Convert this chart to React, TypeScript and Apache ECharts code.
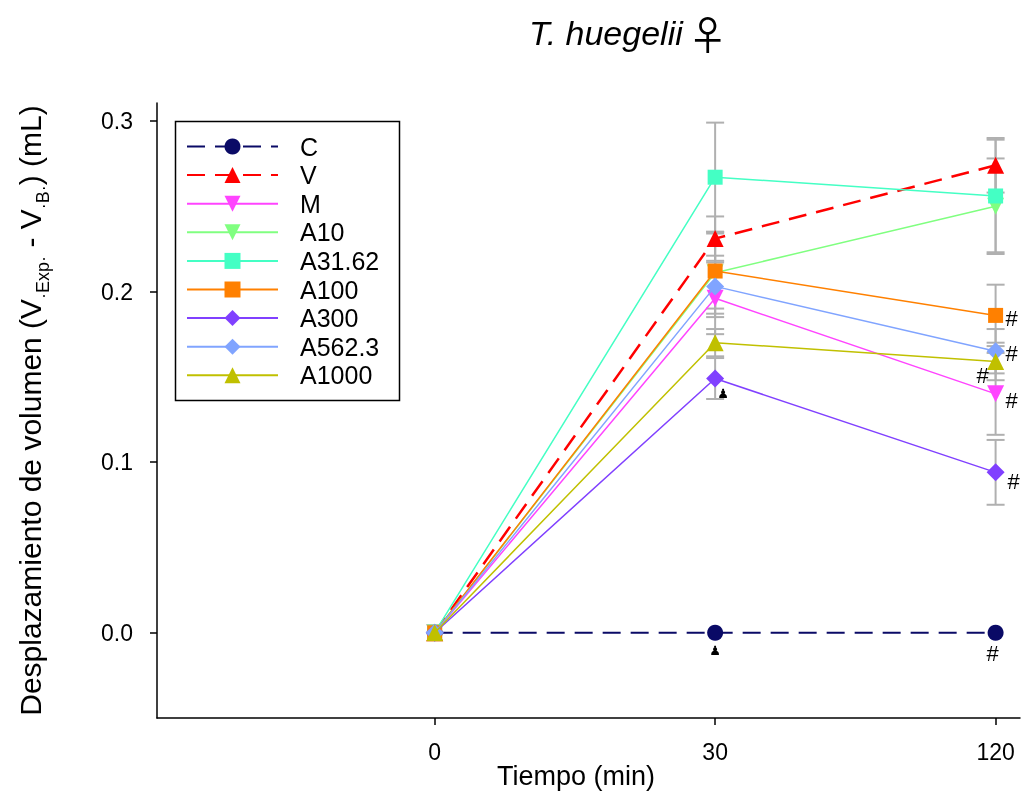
import React, { useEffect, useRef } from 'react';
import * as echarts from 'echarts';

// ---- data ----
const timeLabels = ['0', '30', '120'];
const timePos = [0, 1, 2];
const yTicks = [0, 0.1, 0.2, 0.3];

const seriesNames = ['C', 'V', 'M', 'A10', 'A31.62', 'A100', 'A300', 'A562.3', 'A1000'];

const valC = [0, 0, 0];
const valV = [0, 0.231, 0.274];
const valM = [0, 0.196, 0.140];
const valA10 = [0, 0.211, 0.250];
const valA31 = [0, 0.267, 0.256];
const valA100 = [0, 0.212, 0.186];
const valA300 = [0, 0.149, 0.094];
const valA562 = [0, 0.203, 0.165];
const valA1000 = [0, 0.170, 0.159];

const errC = [0, 0, 0];
const errV = [0, 0.013, 0.016];
const errM = [0, 0.021, 0.024];
const errA10 = [0, 0.024, 0.028];
const errA31 = [0, 0.032, 0.033];
const errA100 = [0, 0.022, 0.018];
const errA300 = [0, 0.012, 0.019];
const errA562 = [0, 0.018, 0.013];
const errA1000 = [0, 0.008, 0.011];

const allValues = [valC, valV, valM, valA10, valA31, valA100, valA300, valA562, valA1000];
const allErrors = [errC, errV, errM, errA10, errA31, errA100, errA300, errA562, errA1000];

// significance marks: [series index, time index, text]
const marks: [number, number, string][] = [
  [5, 2, '#'],
  [7, 2, '#'],
  [8, 2, '#'],
  [2, 2, '#'],
  [6, 2, '#'],
  [0, 2, '#'],
  [6, 1, '♟'],
  [0, 1, '♟'],
];
// label offsets (layout) for each mark, same order
const markOffsets: [number, number][] = [
  [16, 3], [16, 2], [-13, 14], [16, 7], [18, 9], [-3, 21], [8, 15], [0, 18],
];

// ---- styles ----
const colors = ['#0a0a66', '#ff0000', '#ff44ff', '#80ff80', '#44ffc4', '#ff8000', '#8040ff', '#80a4ff', '#c0c000'];
const symbols = ['circle', 'triangle', 'triangle', 'triangle', 'rect', 'rect', 'diamond', 'diamond', 'triangle'];
const rotates = [0, 0, 180, 180, 0, 0, 0, 0, 0];
const sizes = [16, 17, 17, 17, 15, 15, 18, 18, 17];
const FONT = '"Liberation Sans", Arial, sans-serif';

export default function App() {
  const ref = useRef<HTMLDivElement>(null);

  useEffect(() => {
    if (!ref.current) return;
    document.body.style.margin = '0';
    const chart = echarts.init(ref.current, undefined, { renderer: 'svg' });

    const errData: number[][] = [];
    allValues.forEach((vals, si) => {
      vals.forEach((v, ti) => {
        if (allErrors[si][ti] > 0) errData.push([timePos[ti], v, allErrors[si][ti]]);
      });
    });

    const lineSeries = seriesNames.map((name, i) => ({
      name,
      type: 'line',
      data: allValues[i].map((v, ti) => [timePos[ti], v]),
      symbol: symbols[i],
      symbolRotate: rotates[i],
      symbolSize: sizes[i],
      showSymbol: true,
      z: 3 + i,
      lineStyle: {
        color: colors[i],
        width: i === 0 ? 2 : i === 1 ? 2.5 : 1.5,
        type: i < 2 ? [18, 10] : 'solid',
      },
      itemStyle: { color: colors[i], borderWidth: 0 },
      emphasis: { disabled: true },
    }));

    const markData = marks.map(([si, ti], k) => [timePos[ti], allValues[si][ti], k]);

    chart.setOption({
      animation: false,
      grid: { left: 157, right: 1, top: 103, bottom: 73 },
      title: {
        text: '{i|T. huegelii} {n|♀}',
        left: 524,
        top: 8,
        textStyle: {
          fontWeight: 'normal',
          rich: {
            i: { fontSize: 34, fontStyle: 'italic', fontWeight: 'normal', fontFamily: FONT, color: '#000' },
            n: { fontSize: 40, fontWeight: 'normal', fontFamily: '"Noto Sans CJK JP", "DejaVu Sans"', color: '#000' },
          },
        },
      },
      legend: {
        orient: 'vertical',
        left: 186,
        top: 134,
        padding: 0,
        itemWidth: 91,
        itemHeight: 20,
        itemGap: 3.6,
        data: seriesNames,
        selectedMode: false,
        textStyle: { fontSize: 25, fontFamily: FONT, color: '#000', lineHeight: 20, padding: [0, 0, 0, 17] },
      },
      xAxis: {
        type: 'value',
        min: -0.99,
        max: 2.087,
        axisLine: { onZero: false, lineStyle: { color: '#000', width: 1.5 } },
        axisTick: { show: true, length: 7, lineStyle: { color: '#000', width: 1.5 }, customValues: timePos },
        axisLabel: {
          fontSize: 23,
          fontFamily: FONT,
          color: '#000',
          margin: 22,
          customValues: timePos,
          formatter: (v: number) => timeLabels[timePos.indexOf(Math.round(v))] ?? '',
        },
        splitLine: { show: false },
      },
      yAxis: {
        type: 'value',
        min: -0.05,
        max: 0.3105,
        name: '{a|Desplazamiento de volumen (V}{s|·Exp·}{a| - V}{s|·B·}{a|) (mL)}',
        nameLocation: 'middle',
        nameGap: 112,
        nameRotate: 90,
        nameTextStyle: {
          rich: {
            a: { fontSize: 30, fontFamily: FONT, color: '#000', verticalAlign: 'bottom', lineHeight: 34 },
            s: { fontSize: 18, fontFamily: FONT, color: '#000', verticalAlign: 'bottom', lineHeight: 22, padding: [0, 0, -7, 0] },
          },
        },
        axisLine: { show: true, onZero: false, lineStyle: { color: '#000', width: 1.5 } },
        axisTick: { show: true, length: 7, lineStyle: { color: '#000', width: 1.5 }, customValues: yTicks },
        axisLabel: {
          fontSize: 23,
          fontFamily: FONT,
          color: '#000',
          margin: 24,
          customValues: yTicks,
          formatter: (v: number) => v.toFixed(1),
        },
        splitLine: { show: false },
      },
      graphic: [
        {
          type: 'rect',
          shape: { x: 175.5, y: 121.5, width: 224, height: 279 },
          style: { fill: 'none', stroke: '#000', lineWidth: 1.5 },
          z: 10,
        },
        {
          type: 'text',
          x: 576,
          y: 776,
          style: { text: 'Tiempo (min)', fontSize: 27, fontFamily: FONT, fill: '#000', align: 'center', verticalAlign: 'middle' },
        },
      ],
      series: [
        {
          type: 'custom',
          name: 'err',
          z: 1,
          data: errData,
          renderItem: (params: any, api: any) => {
            const x = api.value(0), y = api.value(1), e = api.value(2);
            const top = api.coord([x, y + e]);
            const bot = api.coord([x, y - e]);
            const w = 9;
            const st = { stroke: '#b0b0b0', lineWidth: 2 };
            return {
              type: 'group',
              children: [
                { type: 'line', shape: { x1: top[0], y1: top[1], x2: bot[0], y2: bot[1] }, style: st },
                { type: 'line', shape: { x1: top[0] - w, y1: top[1], x2: top[0] + w, y2: top[1] }, style: st },
                { type: 'line', shape: { x1: bot[0] - w, y1: bot[1], x2: bot[0] + w, y2: bot[1] }, style: st },
              ],
            };
          },
          silent: true,
        },
        ...lineSeries,
        {
          type: 'custom',
          name: 'marks',
          z: 20,
          data: markData,
          silent: true,
          renderItem: (params: any, api: any) => {
            const k = api.value(2);
            const p = api.coord([api.value(0), api.value(1)]);
            const text = marks[k][2];
            const off = markOffsets[k];
            return {
              type: 'text',
              x: p[0] + off[0],
              y: p[1] + off[1],
              style: {
                text,
                fill: '#000',
                fontSize: text === '#' ? 22 : 13,
                fontFamily: text === '#' ? FONT : '"DejaVu Sans"',
                align: 'center',
                verticalAlign: 'middle',
              },
            };
          },
        },
      ],
    });

    return () => chart.dispose();
  }, []);

  return <div ref={ref} style={{ position: 'fixed', left: 0, top: 0, width: 1021, height: 791 }} />;
}
